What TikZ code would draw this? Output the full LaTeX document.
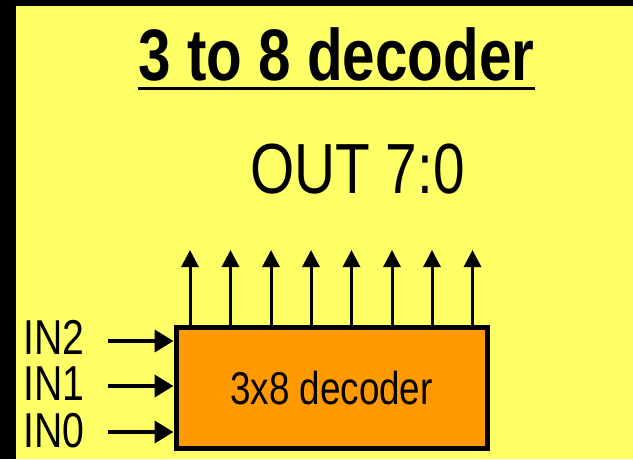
\documentclass[tikz,border=0pt]{standalone}
\usepackage{fontspec}
\setmainfont{Liberation Sans}
\newfontfamily\narrowfont[FakeStretch=0.8]{Liberation Sans}
\usetikzlibrary{arrows.meta}
\definecolor{bgyellow}{HTML}{FFFF66}
\definecolor{boxorange}{HTML}{FF9900}
\tikzset{
  inarrow/.style={line width=4pt,-{Triangle[length=19pt,width=22pt]}},
  outarrow/.style={line width=3pt,-{Triangle[length=17pt,width=17pt]}},
  lbl/.style={inner sep=0pt,anchor=base west,font=\narrowfont\fontsize{49}{55}\selectfont},
}
\begin{document}
\begin{tikzpicture}[x=1pt,y=-1pt]
\useasboundingbox (0,0) rectangle (633,459);
\fill[bgyellow] (0,0) rectangle (633,459);
\fill[black] (0,0) rectangle (16,459);
\fill[black] (0,0) rectangle (633,6);
% title
\node[inner sep=0pt,anchor=base,font=\narrowfont\bfseries\fontsize{73}{80}\selectfont] (title) at (336.5,80) {3 to 8 decoder};
\draw[line width=3pt] (title.base west |- 0,88) coordinate (ul1) -- (title.base east |- 0,88) coordinate (ul2);
% OUT label
\node[inner sep=0pt,anchor=base,font=\narrowfont\fontsize{71}{78}\selectfont] (out) at (357.5,193) {OUT 7:0};
% decoder box
\node[draw=black,line width=5pt,fill=boxorange,minimum width=311pt,minimum height=121pt,inner sep=0pt,
      text height=33pt,text depth=0pt,font=\narrowfont\fontsize{46}{50}\selectfont] (dec) at (331.5,387.5) {3x8 decoder};
% inputs
\node[lbl] (in2) at (23,354) {IN2};
\node[lbl] (in1) at (23,400) {IN1};
\node[lbl] (in0) at (23,447) {IN0};
\coordinate (s2) at (108,341);
\coordinate (s1) at (108,386);
\coordinate (s0) at (108,432);
\draw[inarrow] (s2) -- (s2 -| dec.west);
\draw[inarrow] (s1) -- (s1 -| dec.west);
\draw[inarrow] (s0) -- (s0 -| dec.west);
% outputs
\foreach \i/\x in {7/190,6/230.5,5/271,4/311,3/351.5,2/392,1/432,0/472.5}{
  \coordinate (o\i) at (\x,250);
  \draw[outarrow] (o\i |- dec.north) -- (o\i);
}
\end{tikzpicture}
\end{document}
